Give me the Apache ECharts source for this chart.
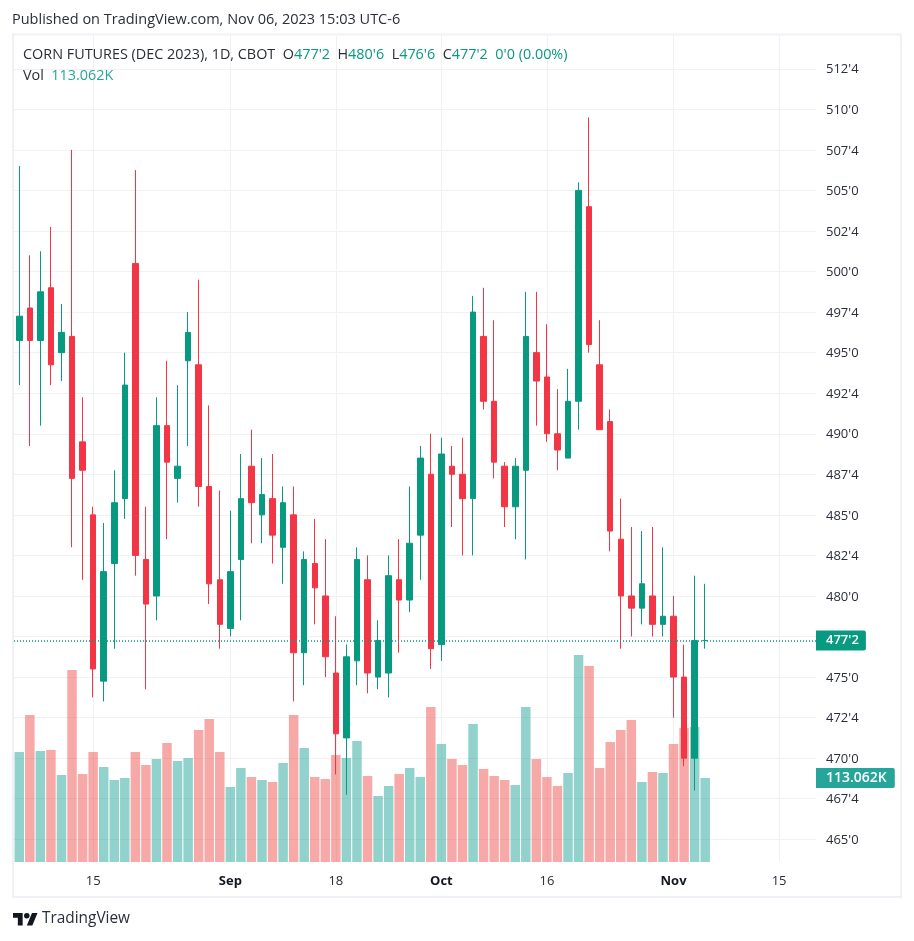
<!DOCTYPE html>
<html>
<head>
<meta charset="utf-8">
<style>
html, body { margin: 0; padding: 0; background: #fff; }
#main { width: 914px; height: 941px; }
</style>
<script src="https://cdn.jsdelivr.net/npm/echarts@6/dist/echarts.min.js"></script>
</head>
<body>
<div id="main"></div>
<script>
// trading days, then the empty days on the right of the chart
var categories = ['Aug 4','Aug 7','Aug 8','Aug 9','Aug 10','Aug 11','Aug 14','Aug 15','Aug 16','Aug 17','Aug 18','Aug 21','Aug 22','Aug 23','Aug 24','Aug 25','Aug 28','Aug 29','Aug 30','Aug 31',
    'Sep 1','Sep 5','Sep 6','Sep 7','Sep 8','Sep 11','Sep 12','Sep 13','Sep 14','Sep 15','Sep 18','Sep 19','Sep 20','Sep 21','Sep 22','Sep 25','Sep 26','Sep 27','Sep 28','Sep 29',
    'Oct 2','Oct 3','Oct 4','Oct 5','Oct 6','Oct 9','Oct 10','Oct 11','Oct 12','Oct 13','Oct 16','Oct 17','Oct 18','Oct 19','Oct 20','Oct 23','Oct 24','Oct 25','Oct 26','Oct 27','Oct 30','Oct 31',
    'Nov 1','Nov 2','Nov 3','Nov 6','Nov 7','Nov 8','Nov 9','Nov 10','Nov 13','Nov 14','Nov 15','Nov 16','Nov 17','Nov 20'];

var opens = [495.75,497.75,495.75,499,495,496,489.5,485,474.75,482,486,500.5,482.25,480,490.5,487.25,494.5,494.25,486.75,481,478,
    482.25,488,485,486,483,485,476.5,482,480,475.25,471.25,476,481,475,475.25,481,479.75,483.75,487.5,477,
    488,487.5,486,496,492,488,485.5,487.75,495,493.5,490,488.5,492,504,494.25,490.75,483.5,480,479.25,480,478.25,478.75,475,470,477.25];
var closes = [497.25,495.75,498.75,494.25,496.25,487.25,487.75,475.5,481.5,485.75,493,482.5,479.5,490.5,488.25,488,496.25,486.75,480.75,478.25,481.5,
    486,485.75,486.25,483.75,485.75,476.5,482.25,480.5,476.25,471.5,476.25,482.25,475.25,477.25,481.25,479.75,483.25,488.5,476.75,488.75,
    487.5,486,497.5,492,488.25,485.5,488,496,493.25,490,489,492,505,495.5,490.25,484,480,479.25,480.75,478.25,478.75,475,470,477.25,477.25];
var lows = [493,489.25,490.5,493,493.25,483,481,473.75,473.5,476.75,484.75,481.25,474.25,478.5,483.5,485.75,489.25,485.5,479.5,476.75,477.5,
    478.5,483.25,483.25,482,480.75,473.5,474.5,478.25,475,469,467.75,474.5,474,474.25,473.75,476.5,479,481,475.5,476,
    484.25,482.5,482.5,491.5,487.25,484.25,483.5,482.25,490.5,489.5,487.75,488.5,490.25,495,490.25,482.75,476.75,477.5,478.25,477.5,477.5,472.5,469.5,468,476.75];
var highs = [506.5,501,501.25,502.75,498,507.5,492.25,485.5,484.5,487.75,495,506.25,485.5,492.25,494.5,493,497.5,499.5,491.75,486.5,485.25,
    488.75,490.25,488.5,488.75,486.75,486.75,482.75,484.75,483.5,478.75,477,483,482.5,478.5,482.5,483.5,486.75,489.25,490,489.75,
    489.25,489.75,498.5,499,497,488.25,488.5,498.75,498.75,496.75,492.75,494,505.5,509.5,497,491.5,486,484.25,484,484.25,483,480,477,481.25,480.75];
var volumes = [148.1,197.9,149.4,150.8,117.1,258.5,118.5,148.1,127.9,110.4,113.1,148.1,130.6,138.6,160.2,136,140,177.7,192.5,148.1,101,
    126.5,114.4,110.4,107.7,133.3,197.9,153.5,114.4,111.7,144,140,162.9,115.8,88.8,102.3,118.5,126.5,114.4,208.6,158.8,
    138.6,130.6,185.8,125.2,115.8,110.4,103.6,208.6,138.6,114.4,102.3,119.8,278.6,263.8,126.5,161.5,177.7,191.1,107.7,121.1,119.8,158.8,180.4,181.7,113.062];

var priceTicks = [465,467.5,470,472.5,475,477.5,480,482.5,485,487.5,490,492.5,495,497.5,500,502.5,505,507.5,510,512.5];
var dateTickIndex = [7,20,30,40,50,62,72];
var dateTickLabels = ['15','Sep','18','Oct','16','Nov','15'];
var lastPrice = 477.25;
var lastVolume = 113.062;

var UP = '#089981', DOWN = '#f23645';
var VOL_UP = 'rgba(38,166,154,0.5)', VOL_DOWN = 'rgba(239,83,80,0.5)';
var GRID = '#f1f1f4', TEXT = '#2a2e39';
var FONT = '"Open Sans", sans-serif';

// prices are quoted in eighths of a cent, 477.25 -> 477'2
function quote(v) {
    var whole = Math.floor(v);
    return whole + "'" + Math.round((v - whole) * 8);
}

var candleData = [], volumeData = [];
for (var i = 0; i < opens.length; i++) {
    candleData.push([opens[i], closes[i], lows[i], highs[i]]);
    volumeData.push({
        value: volumes[i],
        itemStyle: { color: closes[i] >= opens[i] ? VOL_UP : VOL_DOWN }
    });
}

var isDateTick = function (index) {
    return dateTickIndex.indexOf(index) >= 0;
};

var myChart = echarts.init(document.getElementById('main'), null, { renderer: 'canvas' });

var option = {
    animation: false,
    backgroundColor: '#fff',
    textStyle: { fontFamily: FONT },
    grid: { left: 14, right: 98, top: 36, bottom: 79 },
    xAxis: {
        type: 'category',
        data: categories,
        axisLine: { show: false },
        axisTick: { show: false },
        splitLine: {
            show: true,
            interval: function (index) { return isDateTick(index); },
            alignWithLabel: true,
            lineStyle: { color: GRID, width: 1 }
        },
        axisLabel: {
            interval: function (index) { return isDateTick(index); },
            margin: 13,
            fontSize: 13,
            color: TEXT,
            fontFamily: FONT,
            formatter: function (value, index) {
                var label = dateTickLabels[dateTickIndex.indexOf(index)];
                return /[a-z]/.test(label) ? '{month|' + label + '}' : label;
            },
            rich: { month: { fontWeight: 'bold', fontSize: 13, color: '#131722', fontFamily: FONT } }
        }
    },
    yAxis: [
        {
            type: 'value',
            position: 'right',
            min: 463.6,
            max: 514.52,
            axisLine: { show: false },
            axisTick: { show: false, customValues: priceTicks },
            splitLine: { show: true, lineStyle: { color: GRID, width: 1 } },
            axisLabel: {
                customValues: priceTicks,
                margin: 10,
                fontSize: 13,
                color: TEXT,
                fontFamily: FONT,
                formatter: function (value) {
                    return '{p|' + quote(value) + '}';
                },
                rich: { p: { padding: [2, 0, 0, 0], fontSize: 13, color: TEXT, fontFamily: FONT } }
            }
        },
        {
            type: 'value',
            min: 0,
            max: 1112,
            show: false
        }
    ],
    series: [
        {
            name: 'Vol',
            type: 'bar',
            yAxisIndex: 1,
            data: volumeData,
            barWidth: 9.5,
            z: 2,
            markLine: {
                silent: true,
                symbol: 'none',
                lineStyle: { width: 1, color: 'rgba(0,0,0,0)' },
                data: [{ yAxis: lastVolume }],
                label: {
                    show: true,
                    position: 'end',
                    distance: 0,
                    formatter: lastVolume.toFixed(3) + 'K',
                    color: '#fff',
                    fontFamily: FONT,
                    fontSize: 14,
                    fontWeight: 600,
                    backgroundColor: '#26a69a',
                    padding: [3, 8, 3, 10],
                    borderRadius: [0, 2, 2, 0]
                }
            }
        },
        {
            name: 'CORN FUTURES (DEC 2023)',
            type: 'candlestick',
            yAxisIndex: 0,
            data: candleData,
            barWidth: 6,
            z: 3,
            itemStyle: {
                color: UP,
                color0: DOWN,
                borderColor: UP,
                borderColor0: DOWN,
                borderWidth: 1
            },
            markLine: {
                silent: true,
                symbol: 'none',
                lineStyle: { color: UP, width: 1.5, type: [1, 2] },
                data: [{ yAxis: lastPrice }],
                label: {
                    position: 'end',
                    distance: 0,
                    formatter: quote(lastPrice),
                    color: '#fff',
                    fontFamily: FONT,
                    fontSize: 13,
                    fontWeight: 600,
                    backgroundColor: UP,
                    padding: [4, 7, 3, 10],
                    borderRadius: [0, 2, 2, 0]
                }
            }
        }
    ],
    graphic: [
        {
            type: 'rect',
            silent: true,
            z: 0,
            shape: { x: 13, y: 34.5, width: 888, height: 862.5 },
            style: { fill: 'none', stroke: '#f0f1f7', lineWidth: 2 }
        },
        {
            type: 'text',
            x: 12, y: 12,
            style: { text: 'Published on TradingView.com, Nov 06, 2023 15:03 UTC-6', font: '14.5px ' + FONT, fill: TEXT }
        },
        {
            type: 'text',
            x: 23, y: 48,
            z: 10,
            style: {
                font: '14.4px ' + FONT,
                fill: TEXT,
                text: "CORN FUTURES (DEC 2023), 1D, CBOT  O{g|477'2}  H{g|480'6}  L{g|476'6}  C{g|477'2}  {g|0'0 (0.00%)}",
                rich: { g: { fill: UP, font: '14.4px ' + FONT } }
            }
        },
        {
            type: 'text',
            x: 23, y: 69,
            z: 10,
            style: {
                font: '14.4px ' + FONT,
                fill: TEXT,
                text: 'Vol  {v|113.062K}',
                rich: { v: { fill: '#26a69a', font: '14.4px ' + FONT } }
            }
        },
        // TradingView mark
        { type: 'polygon', shape: { points: [[22.66, 925.5], [17.83, 925.5], [17.83, 917.86], [13, 917.86], [13, 913], [22.66, 913]] }, style: { fill: '#131722' } },
        { type: 'polygon', shape: { points: [[32.32, 925.5], [26.8, 925.5], [31.98, 913], [37.5, 913]] }, style: { fill: '#131722' } },
        { type: 'circle', shape: { cx: 26.8, cy: 915.78, r: 2.77 }, style: { fill: '#131722' } },
        {
            type: 'text',
            x: 42, y: 911,
            style: { text: 'TradingView', font: '15.4px ' + FONT, fill: '#2a2e39' }
        }
    ]
};

myChart.setOption(option);
</script>
</body>
</html>
